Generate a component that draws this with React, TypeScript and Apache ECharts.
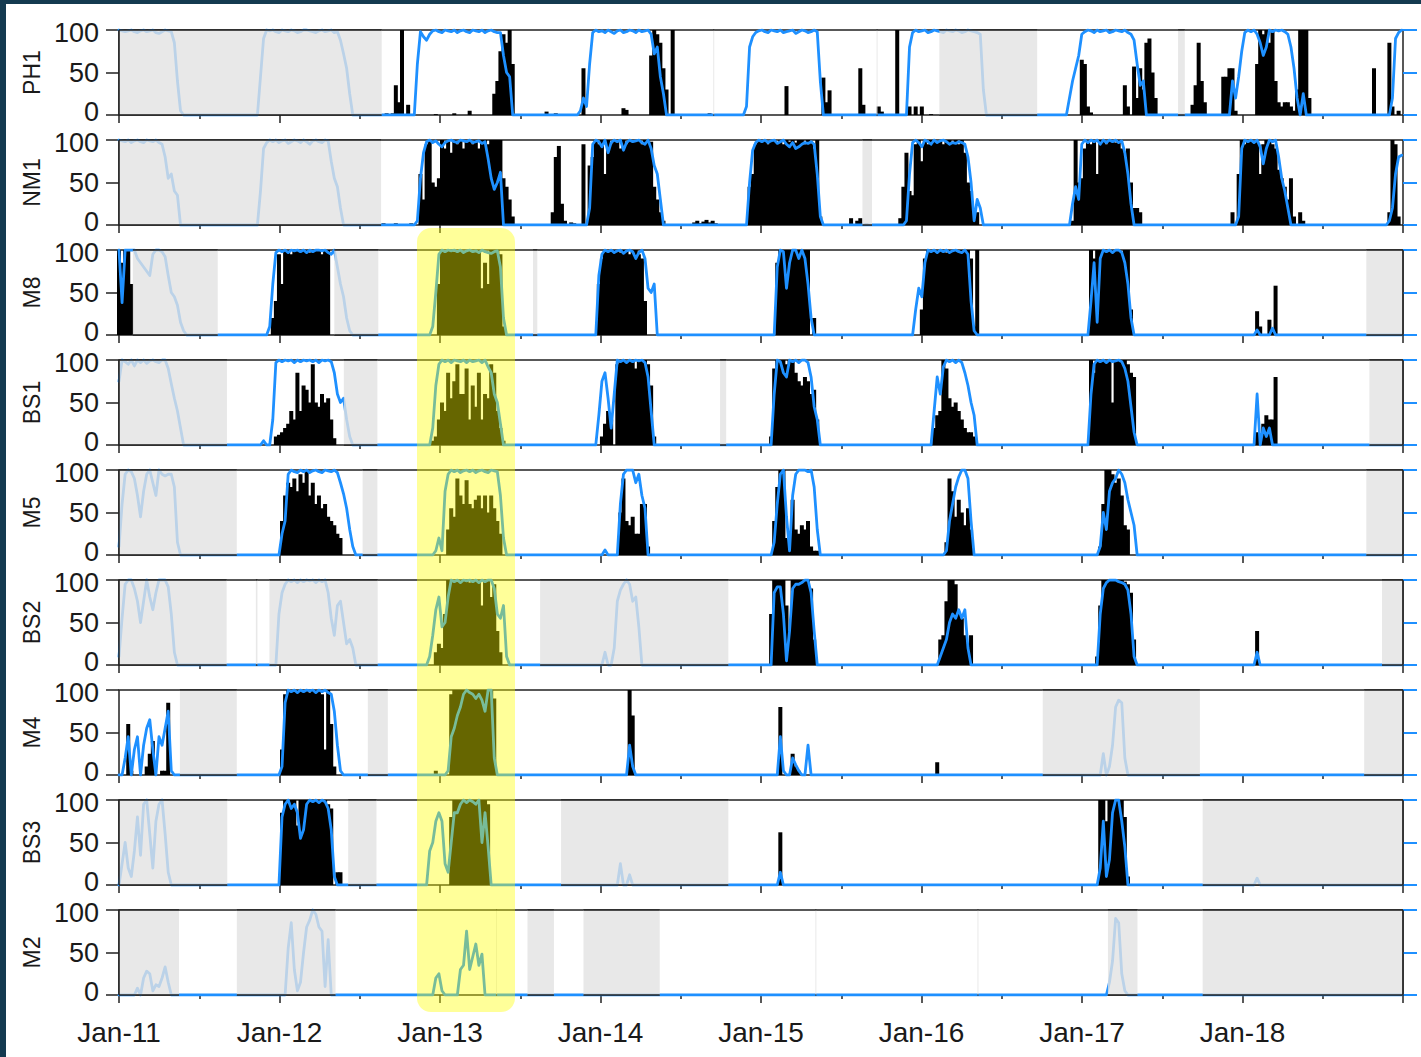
import React, { useEffect, useRef } from 'react';
import * as echarts from 'echarts';

type Seg = [number, number[]];
type Shade = [number, number];

// Panel names, top to bottom
const SITES = ['PH1', 'NM1', 'M8', 'BS1', 'M5', 'BS2', 'M4', 'BS3', 'M2'];
const YEAR_LABELS = ['Jan-11', 'Jan-12', 'Jan-13', 'Jan-14', 'Jan-15', 'Jan-16', 'Jan-17', 'Jan-18'];

// x values are week numbers counted from 1 Jan 2011; each segment = [first week, weekly values]

// ---------------- PH1 ----------------
const PH1_LINE: Seg[] = [
  [0, [100, 99, 98, 99, 100, 98, 97, 99, 100, 98, 99, 100, 97, 96, 98, 100, 99, 98, 85, 40, 5, 0]],
  [45, [0, 45, 90, 100, 99, 100, 98, 97, 100, 99, 98, 100, 99, 97, 98, 100, 100, 99, 98, 97, 99, 100, 98, 99, 100, 97, 98, 88, 72, 55, 25, 0]],
  [96, [0, 60, 98, 92, 88, 95, 99, 100, 98, 97, 100, 99, 98, 100, 97, 99, 100, 98, 97, 100, 99, 98, 100, 97, 99, 100, 98, 97, 97, 70, 50, 45, 0]],
  [149, [0, 5, 20, 10, 60, 97, 100, 98, 99, 97, 100, 98, 96, 99, 100, 97, 98, 100, 99, 97, 100, 98, 99, 100, 95, 72, 80, 45, 25, 0]],
  [203, [0, 10, 80, 92, 97, 99, 100, 98, 97, 100, 99, 98, 100, 97, 98, 99, 100, 96, 98, 100, 99, 97, 98, 100, 98, 40, 0]],
  [256, [0, 80, 97, 100, 98, 99, 100, 97, 98, 100, 99, 98, 97, 100, 99, 98, 100, 99, 97, 98, 100, 99, 98, 97, 95, 30, 0]],
  [308, [0, 20, 40, 55, 70, 95, 98, 100, 99, 97, 100, 98, 99, 100, 97, 98, 100, 99, 98, 100, 97, 95, 88, 60, 35, 40, 0]],
  [361, [0, 40, 20, 45, 75, 97, 100, 98, 100, 95, 85, 70, 80, 100, 98, 100, 99, 100, 98, 95, 80, 55, 20, 0, 25, 0]],
  [413, [0, 20, 90, 97, 100]],
];
const PH1_BARS: Seg[] = [
  [87, [2]], [89, [2, 35, 15, 100, 0, 12]], [103, [1]], [109, [2]], [114, [5]],
  [122, [25, 40, 75, 95, 85, 100, 60]], [139, [4]], [142, [2]], [151, [55]], [164, [8, 6]],
  [173, [70, 100, 95, 85, 55, 30, 0, 100]], [192, [2]], [217, [34]], [229, [44, 15, 29]],
  [241, [55, 12]], [247, [10, 4]], [253, [100]], [257, [10, 0, 10, 0, 10]], [264, [1]],
  [313, [65, 60, 10, 3]], [327, [35, 10, 0, 57, 20, 55, 30, 85, 90, 50, 20]],
  [349, [12, 35, 85, 40, 15]], [359, [45, 45, 55, 55, 5]],
  [370, [60, 100, 95, 100, 85, 100, 40, 15, 10, 15, 15, 10, 5, 30, 100, 100, 100, 20]],
  [397, [1, 1]], [408, [55]], [413, [85, 10, 0, 5]],
];
const PH1_SHADE: Shade[] = [[0, 85.4], [193.2, 193.5], [246.3, 246.6], [266.7, 298.5], [344.3, 346.5]];

// ---------------- NM1 ----------------
const NM1_LINE: Seg[] = [
  [0, [100, 99, 98, 100, 97, 99, 100, 98, 97, 100, 99, 98, 100, 97, 95, 80, 55, 60, 40, 35, 0]],
  [45, [0, 40, 90, 97, 100, 98, 100, 97, 99, 100, 96, 98, 100, 99, 97, 100, 98, 95, 99, 100, 98, 97, 100, 99, 75, 55, 45, 20, 0]],
  [96, [0, 5, 55, 85, 98, 100, 97, 99, 95, 92, 97, 99, 100, 98, 97, 100, 99, 98, 100, 97, 98, 99, 96, 98, 78, 55, 42, 50, 62, 0]],
  [152, [0, 20, 95, 100, 98, 92, 100, 85, 97, 100, 98, 100, 88, 97, 100, 98, 99, 100, 97, 95, 100, 90, 70, 60, 30, 0]],
  [204, [0, 50, 88, 97, 100, 98, 100, 97, 99, 100, 96, 98, 100, 95, 92, 97, 90, 92, 95, 97, 96, 98, 95, 60, 10, 0]],
  [255, [0, 5, 60, 97, 100, 97, 92, 100, 98, 95, 100, 97, 99, 100, 98, 95, 97, 96, 98, 97, 95, 80, 50, 5, 30, 20, 0]],
  [309, [0, 25, 45, 30, 95, 100, 97, 100, 98, 100, 95, 100, 97, 100, 98, 100, 97, 99, 85, 60, 25, 0]],
  [363, [0, 10, 90, 100, 98, 100, 97, 100, 92, 72, 90, 100, 98, 100, 80, 55, 40, 20, 0]],
  [412, [0, 5, 20, 60, 80, 82]],
];
const NM1_BARS: Seg[] = [
  [86, [2, 1, 0, 1, 2, 1, 0, 0, 1, 2]],
  [98, [60, 30, 95, 100, 50, 45, 55, 100, 90, 100, 85, 100, 95, 100, 90, 100, 100, 95, 100, 90, 100, 100, 95, 100, 100, 100, 100, 55, 45, 30, 10]],
  [141, [15, 80, 93, 25, 5]], [147, [3, 2]], [151, [95]],
  [153, [70, 80, 100, 95, 100, 60, 100, 95, 100, 100, 90, 100, 95, 100, 100, 98, 100, 95, 100, 100, 98, 45, 30, 15, 5]],
  [187, [3, 5, 2, 4, 6, 3, 5, 2]],
  [205, [45, 60, 95, 100, 98, 100, 95, 100, 100, 97, 100, 95, 100, 98, 100, 97, 100, 100, 95, 100, 98, 90, 100, 10]],
  [238, [8, 0, 5, 8]], [243, [2]],
  [254, [8, 45, 85, 40, 35, 95, 100, 75, 100, 95, 100, 100, 98, 100, 95, 100, 100, 97, 100, 95, 100, 85, 50, 40, 10, 15]],
  [310, [5, 100, 50, 55, 90, 100, 95, 100, 60, 100, 100, 95, 100, 100, 97, 100, 90, 85, 90, 50, 20, 20, 15]],
  [362, [15, 0, 60, 100, 95, 100, 100, 97, 100, 60, 95, 100, 100, 95, 90, 65, 55, 45, 30, 55, 10, 0, 15, 5]],
  [413, [15, 100, 95, 10]],
];
const NM1_SHADE: Shade[] = [[0, 85.2], [241.7, 244.8]];

// ---------------- M8 ----------------
const M8_LINE: Seg[] = [
  [0, [100, 38, 100, 100, 100, 100, 90, 85, 80, 75, 70, 95, 100, 100, 98, 92, 70, 50, 45, 35, 15, 5, 0]],
  [48, [0, 10, 60, 97, 100, 98, 100, 97, 100, 99, 100, 98, 100, 97, 100, 98, 100, 100, 99, 100, 97, 95, 100, 80, 60, 45, 20, 5, 0]],
  [101, [0, 10, 50, 95, 100, 98, 100, 99, 100, 98, 100, 97, 99, 100, 98, 99, 97, 100, 98, 97, 96, 98, 99, 80, 20, 0]],
  [155, [0, 70, 95, 100, 98, 100, 97, 99, 100, 96, 99, 100, 98, 90, 97, 100, 90, 55, 50, 60, 0]],
  [213, [0, 80, 100, 98, 55, 85, 100, 100, 90, 100, 90, 60, 20, 0]],
  [258, [0, 30, 55, 45, 85, 100, 98, 100, 97, 100, 98, 100, 97, 99, 100, 98, 97, 100, 95, 40, 5, 0]],
  [315, [0, 40, 85, 15, 90, 100, 98, 100, 97, 100, 100, 97, 85, 60, 20, 0]],
  [369, [0, 6, 0]], [374, [0, 8, 0]], [417, [0]],
];
const M8_BARS: Seg[] = [
  [0, [100, 85, 100, 100, 60]],
  [50, [20, 40, 95, 60, 100, 100, 95, 100, 100, 98, 100, 100, 97, 100, 100, 100, 95, 100, 100]],
  [104, [60, 100, 97, 100, 100, 98, 100, 100, 97, 100, 100, 100, 100, 100, 55, 85, 60, 100, 100, 100, 95, 10]],
  [156, [60, 90, 100, 100, 98, 100, 100, 97, 100, 100, 95, 100, 100, 95, 90, 40]],
  [214, [85, 100, 100, 100, 100, 100, 100, 100, 100, 100, 100, 0, 20]],
  [261, [30, 90, 100, 100, 98, 100, 100, 100, 97, 100, 100, 100, 98, 100, 100, 100, 90, 10, 100]],
  [316, [100, 90, 100, 100, 100, 98, 100, 100, 100, 100, 97, 100, 100, 30]],
  [370, [28, 10, 0, 0, 18, 5, 58]],
];
const M8_SHADE: Shade[] = [[4.5, 32.1], [70, 84.3], [134.6, 136], [405.5, 417.4]];

// ---------------- BS1 ----------------
const BS1_LINE: Seg[] = [
  [0, [75, 100, 98, 95, 100, 93, 100, 97, 100, 96, 99, 100, 98, 97, 100, 100, 90, 72, 55, 40, 20, 0]],
  [46, [0, 5, 0, 0, 30, 97, 100, 98, 100, 99, 100, 97, 100, 98, 100, 99, 100, 98, 100, 97, 100, 99, 100, 98, 85, 60, 50, 55, 30, 10, 0]],
  [101, [0, 20, 70, 95, 100, 98, 100, 97, 100, 99, 98, 100, 97, 100, 98, 99, 100, 97, 100, 92, 85, 60, 50, 25, 0]],
  [155, [0, 35, 75, 85, 55, 20, 60, 100, 98, 100, 97, 100, 98, 100, 99, 100, 97, 80, 40, 0]],
  [212, [0, 60, 100, 98, 85, 80, 100, 98, 100, 97, 100, 100, 97, 80, 45, 30, 0]],
  [264, [0, 40, 80, 60, 92, 100, 98, 100, 97, 100, 97, 85, 70, 50, 35, 0]],
  [315, [0, 60, 95, 100, 98, 100, 97, 100, 98, 99, 100, 98, 90, 75, 45, 15, 0]],
  [369, [0, 60, 0, 20, 10, 20, 0]], [417, [0]],
];
const BS1_BARS: Seg[] = [
  [51, [10, 12, 15, 20, 25, 40, 30, 85, 40, 70, 65, 50, 95, 50, 45, 60, 50, 55, 30, 8]],
  [102, [5, 10, 30, 50, 40, 85, 55, 75, 95, 60, 60, 90, 30, 70, 45, 85, 30, 60, 55, 95, 85, 40, 20, 5]],
  [157, [10, 25, 40, 30, 0, 95, 100, 100, 98, 100, 100, 90, 100, 100, 100, 95, 70, 10]],
  [212, [10, 90, 100, 100, 100, 95, 100, 100, 85, 75, 70, 80, 75, 60, 65, 30]],
  [265, [20, 35, 40, 100, 90, 55, 45, 50, 40, 30, 20, 15, 15, 10]],
  [316, [100, 85, 100, 100, 100, 98, 100, 50, 100, 100, 100, 100, 95, 85, 80]],
  [370, [15, 0, 25, 35, 30, 30, 80]],
];
const BS1_SHADE: Shade[] = [[0, 35.1], [73.1, 84], [195.4, 197.4], [406.5, 417.4]];

// ---------------- M5 ----------------
const M5_LINE: Seg[] = [
  [0, [10, 60, 95, 100, 98, 90, 70, 45, 75, 95, 100, 85, 70, 100, 95, 93, 95, 95, 80, 15, 0]],
  [52, [0, 25, 40, 95, 100, 98, 97, 100, 98, 100, 97, 99, 100, 98, 97, 100, 99, 98, 100, 97, 85, 72, 55, 30, 10, 0]],
  [102, [0, 5, 20, 5, 75, 95, 100, 98, 100, 97, 99, 100, 98, 100, 97, 99, 100, 98, 97, 100, 99, 98, 70, 20, 0]],
  [157, [0, 6, 0]],
  [162, [0, 60, 95, 100, 100, 100, 85, 95, 70, 55, 0]],
  [212, [0, 15, 60, 95, 100, 45, 5, 70, 95, 100, 100, 100, 98, 100, 80, 30, 0]],
  [268, [0, 5, 40, 60, 80, 92, 100, 100, 90, 40, 0]],
  [318, [0, 10, 50, 30, 75, 85, 90, 100, 95, 85, 65, 50, 35, 0]],
  [417, [0]],
];
const M5_BARS: Seg[] = [
  [53, [40, 70, 85, 80, 90, 75, 95, 85, 100, 70, 85, 60, 70, 55, 60, 45, 40, 35, 25, 20]],
  [107, [30, 55, 45, 90, 70, 60, 88, 60, 55, 65, 70, 55, 70, 50, 70, 55, 40, 25]],
  [163, [50, 90, 40, 35, 45, 25, 25, 60, 60, 10]],
  [213, [40, 80, 100, 100, 20, 10, 65, 30, 25, 35, 30, 40, 10, 5, 5]],
  [269, [15, 90, 75, 45, 65, 50, 35, 55, 30]],
  [319, [10, 60, 100, 100, 95, 85, 90, 70, 35, 30]],
];
const M5_SHADE: Shade[] = [[0, 38.3], [79.2, 84], [405.5, 417.4]];

// ---------------- BS2 ----------------
const BS2_LINE: Seg[] = [
  [0, [10, 55, 95, 100, 100, 90, 75, 50, 75, 100, 80, 65, 85, 100, 100, 100, 92, 60, 15, 0]],
  [51, [0, 60, 85, 95, 100, 98, 100, 97, 100, 98, 100, 99, 100, 97, 100, 98, 100, 85, 55, 35, 70, 75, 50, 25, 30, 20, 0]],
  [100, [0, 10, 35, 65, 80, 45, 50, 80, 100, 98, 100, 97, 100, 99, 100, 98, 100, 97, 100, 98, 100, 100, 90, 60, 55, 70, 10, 0]],
  [157, [0, 15, 0, 0, 20, 75, 88, 95, 100, 95, 75, 80, 45, 0]],
  [212, [0, 85, 92, 92, 60, 5, 40, 90, 95, 95, 97, 100, 100, 85, 40, 0]],
  [266, [0, 10, 20, 30, 50, 60, 55, 65, 55, 65, 20, 0]],
  [318, [0, 60, 90, 97, 100, 100, 100, 98, 97, 95, 88, 60, 10, 0]],
  [369, [0, 15, 0]], [417, [0]],
];
const BS2_BARS: Seg[] = [
  [103, [15, 25, 20, 60, 100, 100, 100, 98, 100, 100, 100, 97, 100, 100, 100, 70, 100, 100, 80, 95, 40, 15]],
  [212, [60, 100, 100, 100, 100, 70, 40, 100, 100, 100, 100, 100, 100, 90, 30]],
  [267, [30, 35, 75, 100, 100, 95, 60, 55, 35, 25, 35]],
  [318, [10, 70, 100, 100, 100, 100, 100, 100, 100, 98, 95, 85, 30]],
  [370, [40]],
];
const BS2_SHADE: Shade[] = [[0, 35], [44.5, 45], [48.9, 84.1], [136.9, 198.1], [410.6, 417.4]];

// ---------------- M4 ----------------
const M4_LINE: Seg[] = [
  [0, [0, 0, 20, 45, 0, 30, 45, 0, 35, 55, 65, 30, 0, 45, 35, 55, 75, 5, 0]],
  [52, [0, 10, 85, 100, 98, 100, 97, 100, 98, 100, 99, 100, 97, 100, 98, 100, 97, 95, 75, 35, 5, 0]],
  [106, [0, 5, 45, 55, 70, 80, 95, 100, 97, 95, 90, 95, 88, 75, 100, 100, 20, 0]],
  [165, [0, 35, 10, 0]],
  [213, [0, 0, 45, 5, 0, 0, 20, 12, 5, 0, 0, 35, 0]],
  [319, [0, 25, 0, 10, 35, 80, 88, 85, 20, 0]],
  [417, [0]],
];
const M4_BARS: Seg[] = [
  [3, [60, 5, 0, 0, 0, 0, 10, 25, 40, 0, 0, 5, 5, 85]],
  [53, [30, 95, 100, 100, 98, 100, 100, 100, 100, 97, 100, 100, 100, 95, 30, 100, 60, 10]],
  [103, [5]],
  [108, [95, 100, 100, 100, 100, 100, 100, 100, 100, 100, 100, 100, 100, 100, 90]],
  [166, [100, 70]],
  [215, [80, 0, 0, 0, 25, 10, 5]],
  [266, [15]],
];
const M4_SHADE: Shade[] = [[19.8, 38.3], [80.9, 87.4], [300.3, 351.4], [404.8, 417.4]];

// ---------------- BS3 ----------------
const BS3_LINE: Seg[] = [
  [0, [0, 25, 50, 20, 10, 40, 80, 35, 95, 100, 60, 20, 75, 95, 100, 60, 15, 0]],
  [52, [0, 80, 95, 100, 90, 95, 85, 55, 65, 95, 100, 98, 100, 97, 100, 98, 90, 65, 10, 0]],
  [100, [0, 40, 50, 75, 85, 75, 25, 15, 50, 85, 85, 95, 100, 97, 100, 98, 95, 100, 50, 85, 45, 0]],
  [162, [0, 25, 0, 0, 12, 0]],
  [214, [0, 15, 0]],
  [318, [0, 20, 75, 10, 30, 85, 100, 100, 75, 45, 0]],
  [369, [0, 8, 0]], [417, [0]],
];
const BS3_BARS: Seg[] = [
  [53, [85, 100, 100, 100, 100, 70, 100, 100, 100, 100, 100, 100, 100, 100, 100, 95, 90, 0, 15, 15]],
  [108, [80, 100, 100, 100, 100, 100, 100, 100, 100, 100, 100, 100, 95]],
  [215, [62]],
  [319, [100, 100, 75, 100, 100, 100, 100, 100, 80, 10]],
];
const BS3_SHADE: Shade[] = [[0, 35.2], [74.5, 83.7], [143.7, 198.1], [352.3, 417.4]];

// ---------------- M2 ----------------
const M2_LINE: Seg[] = [
  [0, [0]],
  [5, [0, 8, 0, 20, 28, 25, 5, 12, 10, 20, 33, 15, 0]],
  [54, [0, 55, 85, 30, 5, 15, 50, 80, 88, 100, 95, 80, 75, 10, 65, 0]],
  [102, [0, 20, 25, 5, 0, 0, 0, 0, 0, 30, 35, 75, 30, 45, 60, 35, 48, 0]],
  [321, [0, 15, 40, 90, 85, 25, 5, 0]],
  [417, [0]],
];
const M2_BARS: Seg[] = [];
const M2_SHADE: Shade[] = [
  [0, 19.5], [38.3, 70.4], [122.6, 122.9], [132.8, 141.4], [151, 175.8],
  [226.4, 226.7], [279.1, 279.4], [321.5, 331.1], [352.3, 417.4],
];

const LINES = [PH1_LINE, NM1_LINE, M8_LINE, BS1_LINE, M5_LINE, BS2_LINE, M4_LINE, BS3_LINE, M2_LINE];
const BARS = [PH1_BARS, NM1_BARS, M8_BARS, BS1_BARS, M5_BARS, BS2_BARS, M4_BARS, BS3_BARS, M2_BARS];
const SHADES = [PH1_SHADE, NM1_SHADE, M8_SHADE, BS1_SHADE, M5_SHADE, BS2_SHADE, M4_SHADE, BS3_SHADE, M2_SHADE];

const YW = 365.25 / 7; // weeks per year
const XMAX = 8 * YW;

const FONT = '"Liberation Sans", Arial, Helvetica, sans-serif';
const BLUE = '#1e90ff';
const FRAME = '#222222';
const TEXT = '#1a1a1a';
const EDGE = '#143a50';

const LEFT = 119;
const WIDTH = 1284;
const TOP0 = 30;
const STEP = 110;
const HEIGHT = 85;

function expand(segs: Seg[]): number[][] {
  const out: number[][] = [];
  segs.forEach(([s, vals]) => vals.forEach((v, i) => out.push([s + i, v])));
  return out;
}

export default function App() {
  const ref = useRef<HTMLDivElement>(null);
  useEffect(() => {
    if (!ref.current) return;
    const chart = echarts.init(ref.current, null, { renderer: 'svg' });
    const grid: any[] = [];
    const xAxis: any[] = [];
    const yAxis: any[] = [];
    const series: any[] = [];
    const ylab = { fontSize: 27, fontFamily: FONT, color: TEXT };
    SITES.forEach((site, i) => {
      grid.push({
        left: LEFT, top: TOP0 + i * STEP, width: WIDTH, height: HEIGHT,
        show: true, borderColor: FRAME, borderWidth: 1.5, backgroundColor: 'transparent',
      });
      xAxis.push({
        type: 'value', gridIndex: i, min: 0, max: XMAX, interval: YW,
        axisLine: { show: false },
        axisTick: { show: true, length: 8, lineStyle: { color: FRAME, width: 1.5 } },
        minorTick: { show: true, splitNumber: 2, length: 4, lineStyle: { color: FRAME, width: 1.5 } },
        splitLine: { show: false }, minorSplitLine: { show: false },
        axisLabel: {
          show: i === SITES.length - 1, fontSize: 28, color: TEXT, fontFamily: FONT, margin: 23,
          formatter: (v: number) => YEAR_LABELS[Math.round(v / YW)] ?? '',
        },
      });
      yAxis.push({
        type: 'value', gridIndex: i, position: 'left', min: 0, max: 100, interval: 50,
        name: site, nameLocation: 'middle', nameGap: 75, nameRotate: 90,
        nameTextStyle: { fontSize: 23, color: TEXT, fontFamily: FONT },
        axisLine: { show: false },
        axisTick: { show: true, length: 13, lineStyle: { color: FRAME, width: 1.5 } },
        axisLabel: {
          margin: 20, color: TEXT, fontFamily: FONT, fontSize: 27,
          formatter: (v: number) => (v === 0 ? '{lo|0}' : v === 100 ? '{hi|100}' : '{mid|' + v + '}'),
          rich: {
            lo: { ...ylab, padding: [0, 0, 6, 0] },
            hi: { ...ylab, padding: [6, 0, 0, 0] },
            mid: { ...ylab },
          },
        },
        splitLine: { show: false },
      });
      yAxis.push({
        type: 'value', gridIndex: i, position: 'right', min: 0, max: 100, interval: 50,
        axisLine: { show: false },
        axisTick: { show: true, length: 14, lineStyle: { color: BLUE, width: 2 } },
        axisLabel: { show: false }, splitLine: { show: false },
      });
      series.push({
        type: 'bar', xAxisIndex: i, yAxisIndex: 2 * i, data: expand(BARS[i]),
        barWidth: 4, itemStyle: { color: '#000' }, z: 2, silent: true,
      });
      series.push({
        type: 'line', xAxisIndex: i, yAxisIndex: 2 * i, data: expand(LINES[i]),
        showSymbol: false, symbol: 'none',
        lineStyle: { color: BLUE, width: 2.8, join: 'round', cap: 'round' }, z: 3, silent: true,
      });
      series.push({
        type: 'custom', xAxisIndex: i, yAxisIndex: 2 * i, z: 4, silent: true,
        data: SHADES[i].map(([s, e]) => [s, e, 0, 100]),
        encode: { x: [0, 1], y: [2, 3] },
        renderItem: (_p: any, api: any) => {
          const s = api.value(0);
          const e = api.value(1);
          const a = api.coord([s, 100]);
          const b = api.coord([e, 0]);
          const children: any[] = [
            { type: 'rect', shape: { x: a[0], y: a[1], width: b[0] - a[0], height: b[1] - a[1] },
              style: { fill: 'rgba(226,226,226,0.8)' } },
            { type: 'line', shape: { x1: a[0], y1: b[1], x2: b[0], y2: b[1] },
              style: { stroke: FRAME, lineWidth: 1.5 } },
            { type: 'line', shape: { x1: a[0], y1: a[1], x2: b[0], y2: a[1] },
              style: { stroke: FRAME, lineWidth: 1.5 } },
          ];
          if (s <= 0.01) children.push({ type: 'line', shape: { x1: a[0], y1: a[1], x2: a[0], y2: b[1] }, style: { stroke: FRAME, lineWidth: 1.5 } });
          if (e >= XMAX - 0.2) children.push({ type: 'line', shape: { x1: b[0], y1: a[1], x2: b[0], y2: b[1] }, style: { stroke: FRAME, lineWidth: 1.5 } });
          return { type: 'group', children };
        },
      });
    });
    chart.setOption({
      animation: false,
      backgroundColor: '#ffffff',
      grid, xAxis, yAxis, series,
      graphic: [
        {
          type: 'rect', z: 100, silent: true,
          shape: { x: 417, y: 228, width: 98, height: 784, r: 14 },
          style: { fill: 'rgba(255,255,0,0.4)' },
        },
      ],
    });
    return () => chart.dispose();
  }, []);
  return (
    <div style={{ position: 'fixed', left: 0, top: 0, width: 1421, height: 1057, background: '#fff', overflow: 'hidden' }}>
      <div ref={ref} style={{ position: 'absolute', left: 0, top: 0, width: 1421, height: 1057 }} />
      <div style={{ position: 'absolute', left: 0, top: 0, width: 1421, height: 4, background: EDGE }} />
      <div style={{ position: 'absolute', left: 0, top: 0, width: 6, height: 1057, background: EDGE }} />
    </div>
  );
}
